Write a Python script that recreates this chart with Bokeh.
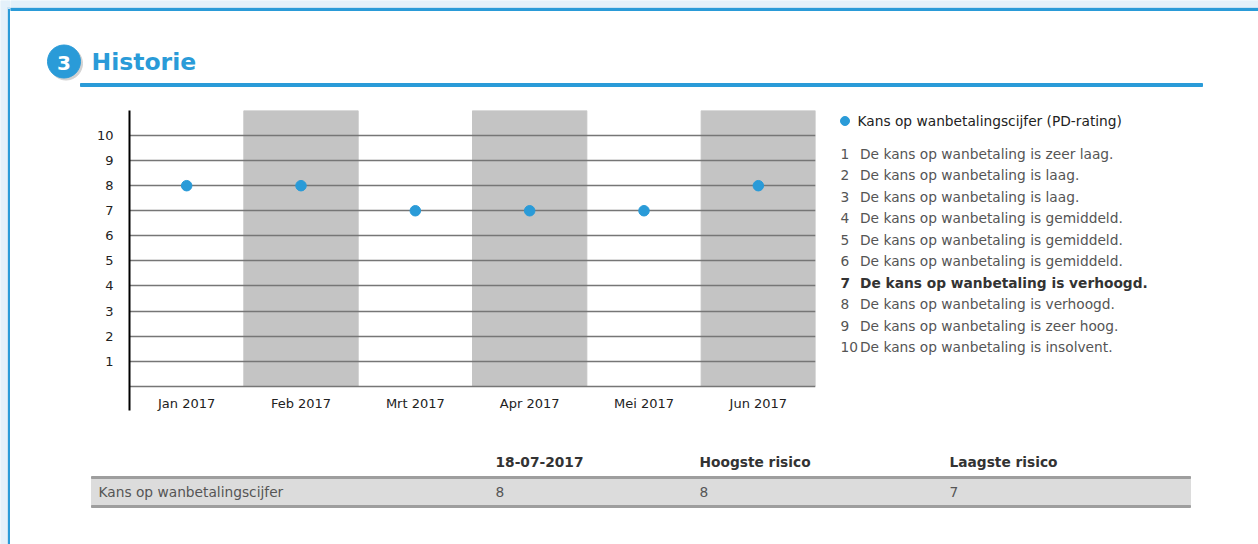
from bokeh.plotting import figure
from bokeh.layouts import row, column
from bokeh.models import Range1d, FactorRange, FixedTicker
from bokeh.core.properties import value
from bokeh.embed import file_html
from bokeh.resources import INLINE

# ---------------- data ----------------
section_number = "3"
title = "Historie"
months = ["Jan 2017", "Feb 2017", "Mrt 2017", "Apr 2017", "Mei 2017", "Jun 2017"]
pd_scores = [8, 8, 7, 7, 7, 8]
y_ticks = [0, 1, 2, 3, 4, 5, 6, 7, 8, 9, 10]
series_name = "Kans op wanbetalingscijfer (PD-rating)"
scale_numbers = ["1", "2", "3", "4", "5", "6", "7", "8", "9", "10"]
scale_texts = [
    "De kans op wanbetaling is zeer laag.",
    "De kans op wanbetaling is laag.",
    "De kans op wanbetaling is laag.",
    "De kans op wanbetaling is gemiddeld.",
    "De kans op wanbetaling is gemiddeld.",
    "De kans op wanbetaling is gemiddeld.",
    "De kans op wanbetaling is verhoogd.",
    "De kans op wanbetaling is verhoogd.",
    "De kans op wanbetaling is zeer hoog.",
    "De kans op wanbetaling is insolvent.",
]
current_score = 7  # highlighted (bold) scale row
table_header = ["18-07-2017", "Hoogste risico", "Laagste risico"]
table_row_label = "Kans op wanbetalingscijfer"
table_values = [str(pd_scores[-1]), str(max(pd_scores)), str(min(pd_scores))]

# ---------------- style ----------------
BLUE = "#2a9bd8"
PAGE_BG = "#e4f1fa"
PAGE_LINE = "#c9e3f4"
FONT = "DejaVu Sans"
GRAY_BAND = "#c4c4c4"
TXT = "13.75px"


def pix_fig(w, h, top=0, bottom=0):
    f = figure(width=w, height=h, x_range=Range1d(0, w), y_range=Range1d(h - bottom, top),
               x_axis_location=None, y_axis_location=None,
               output_backend="svg", toolbar_location=None, min_border=0,
               min_border_top=top, min_border_bottom=bottom)
    f.grid.visible = False
    f.outline_line_color = None
    f.background_fill_color = "white"
    f.border_fill_color = "white"
    return f


# left page margin + card border
strip = pix_fig(10, 544)
strip.quad(left=0, right=7, top=0, bottom=544, color=PAGE_BG)
strip.quad(left=7, right=8, top=7, bottom=544, color=PAGE_LINE)
strip.quad(left=8, right=10, top=8, bottom=544, color=BLUE)
strip.quad(left=7, right=10, top=0, bottom=7, color=PAGE_BG)
strip.quad(left=7, right=10, top=7, bottom=8, color=PAGE_LINE)

# ---------------- header ----------------
header = pix_fig(1248, 100)
header.quad(left=0, right=1248, top=0, bottom=7, color=PAGE_BG)
header.quad(left=0, right=1248, top=7, bottom=8, color=PAGE_LINE)
header.quad(left=0, right=1248, top=8, bottom=10, color=BLUE)
header.circle(x=[55.5], y=[63], radius=16.5, color="#d2d2d2")
header.circle(x=[53.5], y=[61], radius=16.5, color=BLUE)
header.text(x=[53.5], y=[62], text=[section_number], text_color="white",
            text_font=value(FONT), text_font_style="bold", text_font_size="20px",
            text_align="center", text_baseline="middle")
header.text(x=[81], y=[61], text=[title], text_color=BLUE,
            text_font=value(FONT), text_font_style="bold", text_font_size="23.5px",
            text_align="left", text_baseline="middle")
header.quad(left=70, right=1192, top=83, bottom=86, color=BLUE)

# ---------------- chart ----------------
p = figure(width=820, height=340,
           x_range=FactorRange(factors=months, range_padding=0),
           y_range=Range1d(-0.97, 11),
           min_border_left=119, min_border_right=15, min_border_top=10, min_border_bottom=30,
           output_backend="svg", toolbar_location=None)
p.outline_line_color = None
p.border_fill_color = "white"

band_months = months[1::2]
p.vbar(x=band_months, top=max(y_ticks) + 1, bottom=0, width=1.0,
       color=GRAY_BAND, level="image")

p.xgrid.grid_line_color = None
p.ygrid.ticker = FixedTicker(ticks=y_ticks)
p.ygrid.grid_line_color = "#767676"
p.ygrid.grid_line_width = 1.5

p.yaxis.ticker = FixedTicker(ticks=y_ticks)
p.yaxis.major_label_overrides = {0: ""}
p.yaxis.major_tick_line_color = None
p.yaxis.minor_tick_line_color = None
p.yaxis.axis_line_color = "black"
p.yaxis.axis_line_width = 2
p.yaxis.major_label_standoff = 10
p.yaxis.major_label_text_font = FONT
p.yaxis.major_label_text_font_size = "13px"
p.yaxis.major_label_text_color = "#222222"

p.xaxis.axis_line_color = None
p.xaxis.major_tick_line_color = None
p.xaxis.minor_tick_line_color = None
p.xaxis.major_label_standoff = -21
p.xaxis.major_label_text_font = FONT
p.xaxis.major_label_text_font_size = "13px"
p.xaxis.major_label_text_color = "#222222"

p.scatter(x=months, y=pd_scores, size=10.5, color=BLUE)

# ---------------- legend (frame aligned with chart frame: canvas y 10..310) ----------------
leg = pix_fig(428, 340, top=10, bottom=30)
leg.scatter(x=[14.5], y=[20.5], size=9, color=BLUE)
leg.text(x=[27], y=[20], text=[series_name], text_color="#222222",
         text_font=value(FONT), text_font_size=TXT, text_baseline="middle")

row_y0, row_dy = 53.3, 21.5
norm_idx = [i for i, n in enumerate(scale_numbers) if int(n) != current_score]
bold_idx = [i for i, n in enumerate(scale_numbers) if int(n) == current_score]
for idx, style, color in ((norm_idx, "normal", "#555555"), (bold_idx, "bold", "#333333")):
    ys = [row_y0 + i * row_dy for i in idx]
    leg.text(x=[10] * len(idx), y=ys, text=[scale_numbers[i] for i in idx],
             text_color=color, text_font=value(FONT), text_font_style=style,
             text_font_size=TXT, text_baseline="middle")
    leg.text(x=[29.5] * len(idx), y=ys, text=[scale_texts[i] for i in idx],
             text_color=color, text_font=value(FONT), text_font_style=style,
             text_font_size=TXT, text_baseline="middle")

# ---------------- table ----------------
tbl = pix_fig(1248, 104)
col_x = [485, 689, 939]
tbl.text(x=col_x, y=[21] * 3, text=table_header, text_color="#333333",
         text_font=value(FONT), text_font_style="bold", text_font_size=TXT,
         text_baseline="middle")
tbl.quad(left=81, right=1180, top=38, bottom=65, color="#dcdcdc")
tbl.quad(left=81, right=1180, top=36, bottom=38, color="#9e9e9e")
tbl.quad(left=81, right=1180, top=65, bottom=67, color="#9e9e9e")
tbl.text(x=[88] + col_x, y=[51] * 4, text=[table_row_label] + table_values,
         text_color="#555555", text_font=value(FONT), text_font_size=TXT,
         text_baseline="middle")

layout = row(strip, column(header, row(p, leg), tbl))

open("out.html", "w").write(file_html(layout, INLINE))
